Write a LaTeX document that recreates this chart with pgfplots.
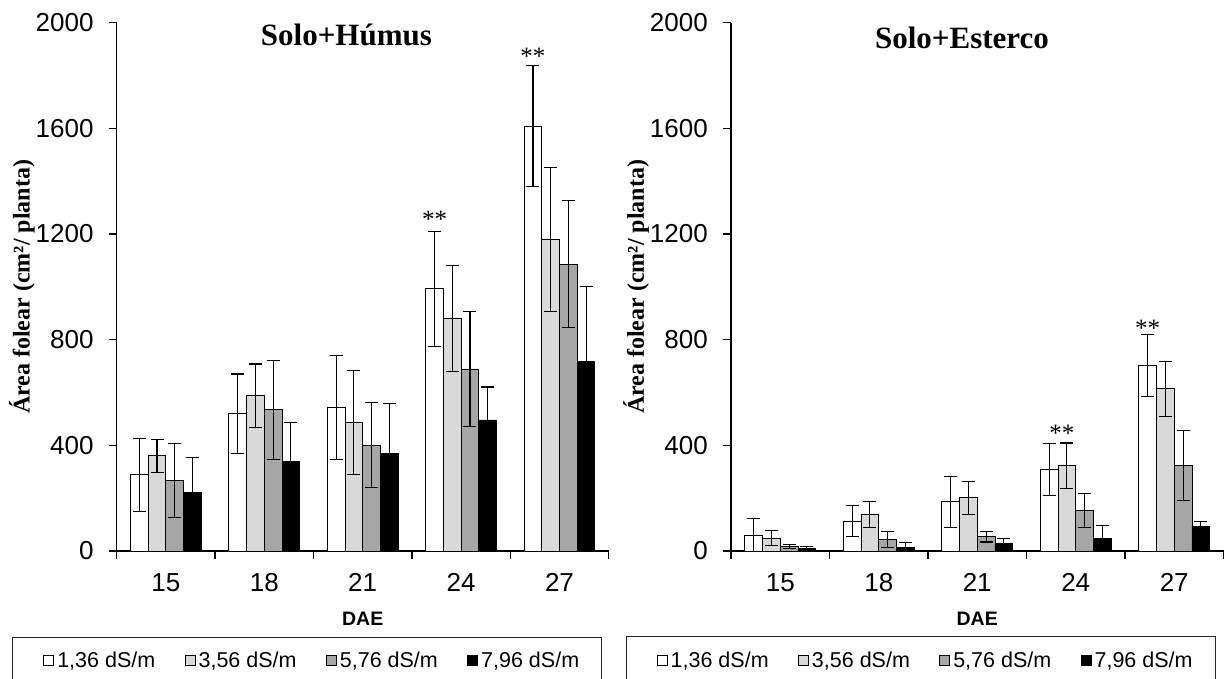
\documentclass[border=0pt]{standalone}
\usepackage{pgfplots}
\pgfplotsset{compat=1.18}
\usepackage{fontspec}
\setmainfont{Liberation Sans}
\newfontfamily\timesfont{Liberation Serif}
\definecolor{lgray}{HTML}{D9D9D9}
\definecolor{mgray}{HTML}{A6A6A6}

\pgfplotsset{
  myaxis/.style={
    scale only axis, height=528.3pt, anchor=south west,
    xmin=0.5,xmax=5.5,ymin=0,ymax=2000,
    axis x line*=bottom, axis y line*=left,
    axis line style={black,line width=1.4pt},
    xtick={0.5,1.5,2.5,3.5,4.5,5.5}, xticklabels={},
    extra x ticks={1,2,3,4,5}, extra x tick labels={15,18,21,24,27},
    extra x tick style={major tick length=0pt, xticklabel style={yshift=-22pt}},
    ytick={0,400,800,1200,1600,2000},
    tick align=outside, major tick length=8pt,
    tick style={black,line width=1.3pt},
    /pgf/number format/assume math mode=true,
    /pgf/number format/1000 sep={},
    ticklabel style={font=\fontsize{26}{26}\selectfont, inner sep=0pt},
    yticklabel style={xshift=-15pt},
    ybar=0pt, bar width=17.7pt,
    every axis plot/.append style={draw=black, line width=0.9pt},
    error bars/y dir=both, error bars/y explicit,
    error bars/error bar style={black,line width=1.1pt},
    error bars/error mark options={black,line width=1.1pt,mark size=6.5pt,rotate=90},
    clip=false,
    ylabel={Área folear (cm²/ planta)},
    ylabel style={at={(axis description cs:-0.1925,0.5)}, anchor=center, font=\timesfont\bfseries\fontsize{24}{24}\selectfont},
    xlabel={DAE},
    xlabel style={at={(axis description cs:0.5,-0.1278)}, anchor=center, font=\bfseries\fontsize{19.5}{19.5}\selectfont},
    legend columns=4,
    legend style={draw=none, fill=none, anchor=west, inner sep=0pt, font=\fontsize{21.5}{21.5}\selectfont,
      nodes={inner sep=0pt},
      /tikz/every odd column/.append style={column sep=3pt},
      /tikz/every even column/.append style={column sep=29.5pt}},
    legend image code/.code={\draw[##1, line width=0.8pt] (0pt,-5pt) rectangle (10pt,5pt);},
    title style={anchor=base, font=\timesfont\bfseries\fontsize{31}{31}\selectfont},
  }
}

\pgfplotstableread{
x y e
1 288 139
2 519 151
3 543 198
4 993 218
5 1609 230
}\hW
\pgfplotstableread{
x y e
1 360 63
2 587 121
3 485 197
4 880 200
5 1180 272
}\hL
\pgfplotstableread{
x y e
1 267 141
2 534 187
3 401 161
4 689 218
5 1086 241
}\hM
\pgfplotstableread{
x y e
1 223 131
2 340 145
3 369 188
4 496 125
5 718 283
}\hB

\pgfplotstableread{
x y e
1 60 63
2 113 59
3 186 97
4 309 98
5 703 118
}\eW
\pgfplotstableread{
x y e
1 49 29
2 138 48
3 201 62
4 323 86
5 614 105
}\eL
\pgfplotstableread{
x y e
1 17 6
2 44 30
3 54 20
4 152 64
5 323 133
}\eM
\pgfplotstableread{
x y e
1 8 8
2 15 16
3 27 19
4 47 48
5 94 19
}\eB

\begin{document}
\begin{tikzpicture}
\path[use as bounding box, clip] (0pt,0pt) rectangle (1227pt,679pt);

\begin{axis}[myaxis, width=492pt, at={(116.7pt,128pt)},
  title={Solo+Húmus}, title style={at={(axis description cs:0.467,0.9451)}},
  legend style={at={(axis description cs:-0.1492,-0.208)}}]
\addplot[fill=white] table[x=x,y=y,y error=e] {\hW};
\addplot[fill=lgray] table[x=x,y=y,y error=e] {\hL};
\addplot[fill=mgray] table[x=x,y=y,y error=e] {\hM};
\addplot[fill=black] table[x=x,y=y,y error=e] {\hB};
\addlegendentry{1,36 dS/m}
\addlegendentry{3,56 dS/m}
\addlegendentry{5,76 dS/m}
\addlegendentry{7,96 dS/m}
\node[anchor=base,font=\timesfont\fontsize{25}{25}\selectfont] at (axis cs:3.73,1224) {**};
\node[anchor=base,font=\timesfont\fontsize{25}{25}\selectfont] at (axis cs:4.73,1840) {**};
\end{axis}

\begin{axis}[myaxis, width=492.5pt, at={(731pt,128pt)},
  title={Solo+Esterco}, title style={at={(axis description cs:0.469,0.9389)}},
  legend style={at={(axis description cs:-0.1509,-0.208)}}]
\addplot[fill=white] table[x=x,y=y,y error=e] {\eW};
\addplot[fill=lgray] table[x=x,y=y,y error=e] {\eL};
\addplot[fill=mgray] table[x=x,y=y,y error=e] {\eM};
\addplot[fill=black] table[x=x,y=y,y error=e] {\eB};
\addlegendentry{1,36 dS/m}
\addlegendentry{3,56 dS/m}
\addlegendentry{5,76 dS/m}
\addlegendentry{7,96 dS/m}
\node[anchor=base,font=\timesfont\fontsize{25}{25}\selectfont] at (axis cs:3.86,414) {**};
\node[anchor=base,font=\timesfont\fontsize{25}{25}\selectfont] at (axis cs:4.73,812) {**};
\end{axis}

\draw[line width=0.9pt, black!85] (12.3pt,-5pt) -- (12.3pt,42pt) -- (601pt,42pt) -- (601pt,-5pt);
\draw[line width=0.9pt, black!85] (626.7pt,-5pt) -- (626.7pt,42.5pt) -- (1215pt,42.5pt) -- (1215pt,-5pt);
\end{tikzpicture}
\end{document}
